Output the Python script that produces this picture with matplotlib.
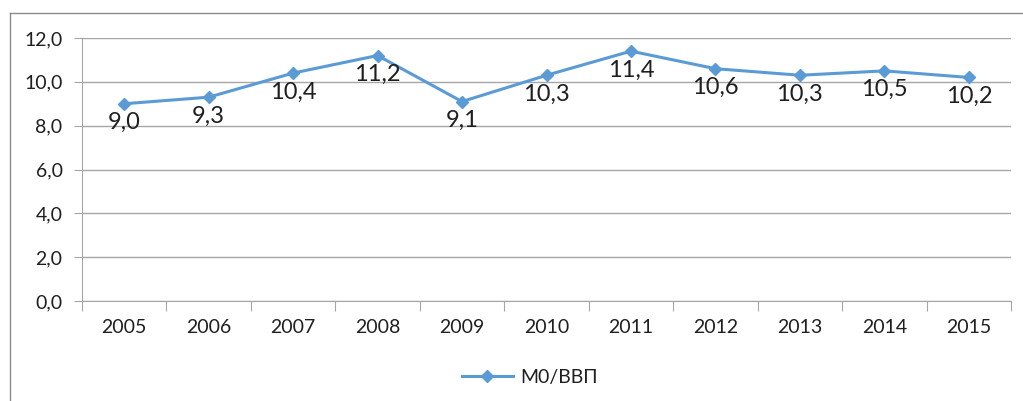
import matplotlib.pyplot as plt
from matplotlib.lines import Line2D
from matplotlib.ticker import FuncFormatter

years = ["2005", "2006", "2007", "2008", "2009", "2010", "2011", "2012", "2013", "2014", "2015"]
m0_gdp = [9.0, 9.3, 10.4, 11.2, 9.1, 10.3, 11.4, 10.6, 10.3, 10.5, 10.2]
series_name = "М0/ВВП"

plt.rcParams["font.family"] = ["Lato", "DejaVu Sans"]

line_color = "#5B9BD5"
grid_color = "#A6A6A6"
text_color = "#1F1F1F"

fig = plt.figure(figsize=(10.23, 4.01), dpi=100)
ax = fig.add_axes([82 / 1023, 1 - 301 / 401, (1011 - 82) / 1023, (301 - 38) / 401])

x = list(range(len(years)))
ax.plot(x, m0_gdp, color=line_color, linewidth=2.2, marker="D", markersize=6.5,
        label=series_name, zorder=3)

for xi, v in zip(x, m0_gdp):
    ax.annotate(f"{v:.1f}".replace(".", ","), (xi, v), xytext=(0, -6),
                textcoords="offset points", ha="center", va="top",
                fontsize=17, color=text_color, zorder=4)

ax.set_xlim(-0.5, len(years) - 0.5)
ax.set_ylim(0, 12)
ax.set_yticks(range(0, 13, 2))
ax.yaxis.set_major_formatter(FuncFormatter(lambda v, p: f"{v:.1f}".replace(".", ",")))
ax.grid(axis="y", color=grid_color, linewidth=1)
ax.set_axisbelow(True)

ax.set_xticks([i - 0.5 for i in range(len(years) + 1)])
ax.set_xticklabels([])
ax.set_xticks(x, minor=True)
ax.set_xticklabels(years, minor=True)
ax.tick_params(axis="x", which="major", length=7, color=grid_color, direction="out")
ax.tick_params(axis="x", which="minor", length=0, pad=13, labelsize=14, labelcolor=text_color)
ax.tick_params(axis="y", length=6, color=grid_color, pad=8, labelsize=14, labelcolor=text_color)

for side in ["top", "right"]:
    ax.spines[side].set_visible(False)
for side in ["left", "bottom"]:
    ax.spines[side].set_color(grid_color)

fig.legend(loc="center", bbox_to_anchor=(0.518, 1 - 377 / 401), frameon=False,
           fontsize=14, handlelength=2.6, handletextpad=0.4, labelcolor=text_color)

# outer chart frame (left and top edges visible)
frame_color = "#8C8C8C"
fig.add_artist(Line2D([10 / 1023, 10 / 1023], [0, 1 - 13 / 401], color=frame_color, linewidth=1))
fig.add_artist(Line2D([10 / 1023, 1], [1 - 13 / 401, 1 - 13 / 401], color=frame_color, linewidth=1))

fig.savefig("out.png", dpi=100)
